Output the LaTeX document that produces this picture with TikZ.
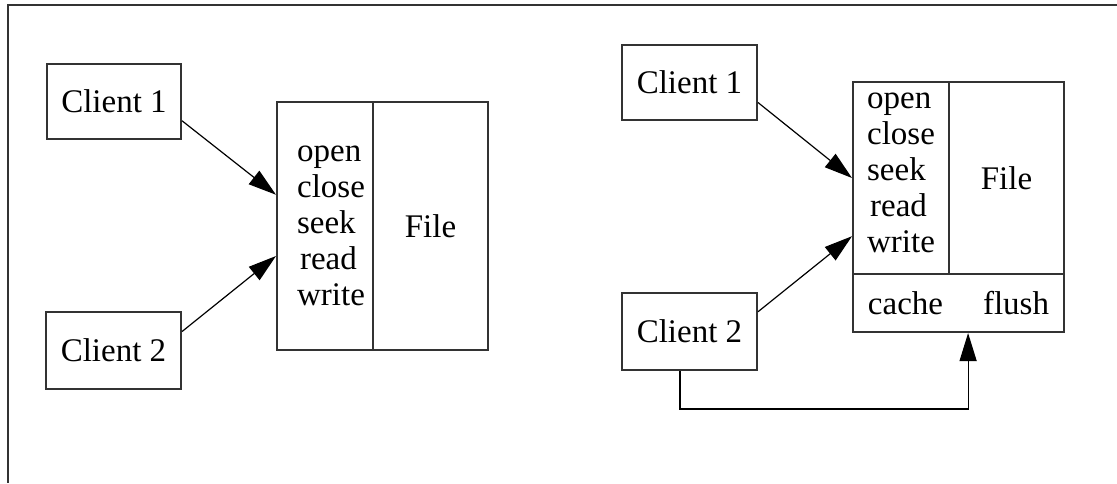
\documentclass[tikz,border=0pt]{standalone}
\usepackage{fontspec}
\setmainfont{Liberation Serif}
\usetikzlibrary{arrows.meta,calc}
\begin{document}
\begin{tikzpicture}[x=0.5pt,y=-0.5pt,
  box/.style={draw=black!80,line width=1pt,rectangle,inner sep=0pt,
    font=\fontsize{16.5}{18}\selectfont},
  lbl/.style={inner sep=0pt,align=left,font=\fontsize{16.5}{18}\selectfont},
  conn/.style={draw=black,line width=0.6pt,
    -{Triangle[length=14pt,width=8.5pt]}},
  frameline/.style={draw=black!80,line width=1pt}]
\useasboundingbox (0,0) rectangle (1117,483);

% open frame: top and left edges only
\draw[frameline] (1117,5) -- (8,5) -- (8,483);

% ---- single shared file ----
\node[box,minimum width=67pt,minimum height=37.5pt] (c1L) at (114,101.5) {Client 1};
\node[box,minimum width=67.5pt,minimum height=38.5pt] (c2L) at (113.5,350.5) {Client 2};
\node[box,minimum width=48pt,minimum height=124pt] (opsL) at (325,226) {};
\node[lbl] (opsLtext) at (331,226) {open\\close\\seek\\\hspace{1.5pt}read\\write};
\node[box,minimum width=57.5pt,minimum height=124pt] (fileL) at (430.5,226) {File};

\draw[conn] ($(c1L.north east)!0.75!(c1L.south east)$) -- ($(opsL.north west)!0.375!(opsL.south west)$);
\draw[conn] ($(c2L.north east)!0.26!(c2L.south east)$) -- ($(opsL.north west)!0.62!(opsL.south west)$);

% ---- file with client cache ----
\node[box,minimum width=67.5pt,minimum height=37.5pt] (c1R) at (689.5,82.5) {Client 1};
\node[box,minimum width=67.5pt,minimum height=38.5pt] (c2R) at (689.5,331.5) {Client 2};
\node[box,minimum width=48pt,minimum height=96pt] (opsR) at (901,178) {};
\node[lbl] (opsRtext) at (901,173) {open\\close\\seek\\\hspace{1.5pt}read\\write};
\node[box,minimum width=57.5pt,minimum height=96pt] (fileR) at (1006.5,178) {File};
\node[box,minimum width=105.5pt,minimum height=29pt] (cacheR) at (958.5,303)
  {cache\hspace{20pt}flush};

\draw[conn] ($(c1R.north east)!0.76!(c1R.south east)$) -- ($(opsR.north west)!0.5!(opsR.south west)$);
\draw[conn] ($(c2R.north east)!0.25!(c2R.south east)$) -- ($(opsR.north west)!0.8!(opsR.south west)$);
\draw[conn] ($(c2R.south west)!0.43!(c2R.south east)$) -- ++(0,38)
  -| ($(cacheR.south west)!0.545!(cacheR.south east)$);
\end{tikzpicture}
\end{document}
